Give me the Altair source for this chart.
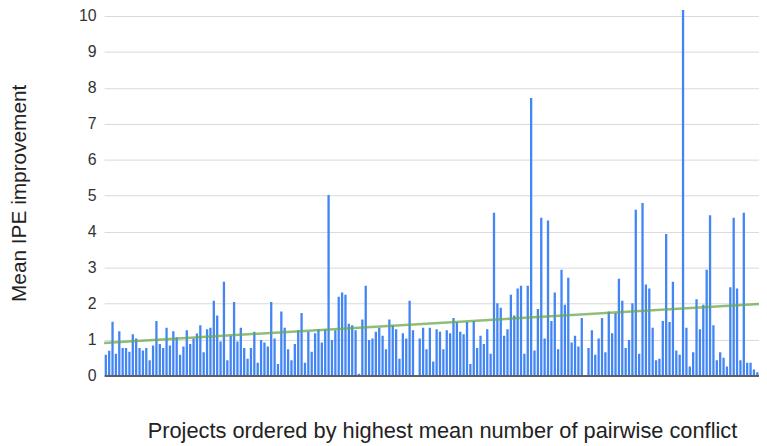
import altair as alt
import pandas as pd

seg1 = [0.58, 0.69, 1.50, 0.61, 1.23, 0.77, 0.77, 0.66, 1.15, 1.03, 0.77, 0.70, 0.77, 0.43, 0.84, 1.52,
        0.88, 0.77, 1.33, 0.84, 1.23, 1.07, 0.58]
seg2 = [0.81, 1.26, 0.88, 1.03, 1.17, 1.40, 0.65, 1.29, 1.33, 2.08, 1.67, 0.95, 2.61, 0.43, 1.11, 2.05,
        0.95, 1.33, 0.77, 0.47, 0.77, 1.22, 0.36, 0.99, 0.92]
seg3 = [0.81, 2.05, 1.03, 0.32, 1.78, 1.33, 0.73, 0.43, 0.88, 1.26, 1.74, 0.36, 1.22, 0.66, 1.18, 1.29,
        0.92, 1.29, 5.02, 0.99, 1.26, 2.19, 2.31, 2.25]
seg4 = [1.44, 1.40, 1.26, 0.05, 1.56, 2.50, 0.99, 1.03, 1.22, 1.33, 1.11, 0.73, 1.56, 1.40, 1.29, 0.47,
        1.18, 1.03, 2.08, 1.26, 0.00, 1.03, 1.33, 0.73]
seg5 = [1.33, 0.39, 1.29, 1.22, 0.73, 1.26, 1.18, 1.60, 1.49, 1.22, 1.15, 1.49, 0.32, 1.52, 0.77, 1.11,
        0.88, 1.29, 0.61, 4.53, 2.01, 1.89, 1.11, 1.29, 2.25]
seg6 = [1.67, 2.42, 2.50, 0.61, 2.50, 7.72, 0.70, 1.85, 4.39, 1.03, 4.31, 1.52, 2.31, 0.73, 2.94, 1.97,
        2.72, 0.92, 1.11, 0.81, 1.60, 0.00, 0.77, 1.26, 0.58]
seg7 = [1.03, 1.60, 0.65, 1.78, 1.18, 1.74, 2.69, 2.08, 0.77, 0.99, 2.01, 4.61, 0.61, 4.80, 2.53, 2.42,
        1.33, 0.43, 0.47, 1.52, 3.94, 1.49, 2.61, 0.70]
seg8 = [0.58, 10.30, 1.33, 0.25, 0.65, 2.12, 1.29, 1.97, 2.94, 4.46, 1.40, 0.43, 0.65, 0.50, 0.25, 2.46,
        4.39, 2.42, 0.43, 4.53, 0.36, 0.36, 0.17, 0.09]

values = seg1 + seg2 + seg3 + seg4 + seg5 + seg6 + seg7 + seg8
n = len(values)
df = pd.DataFrame({"project": list(range(n)), "ipe": values})

FONT = "Arial, Liberation Sans, sans-serif"
x_title = "Projects ordered by highest mean number of pairwise conflict"
y_title = "Mean IPE improvement"

x_scale = alt.Scale(domain=[-0.5, n - 0.5], nice=False, zero=False)
y_scale = alt.Scale(domain=[0, 10.165], nice=False)

x_axis = alt.Axis(title=x_title, labels=False, ticks=False, grid=False, domain=True,
                  domainColor="#333333", domainWidth=1.5, titlePadding=45, titleFontSize=22,
                  titleFont=FONT, titleFontWeight="normal", titleColor="#222222", zindex=1,
                  titleX=341)
y_axis = alt.Axis(title=y_title, values=list(range(11)), grid=True, gridColor="#d9d9d9",
                  domain=False, ticks=False, labelPadding=8, labelFontSize=16, labelFont=FONT,
                  labelColor="#333333", titleFontSize=21, titleFont=FONT, titleFontWeight="normal",
                  titleColor="#222222", titlePadding=50)

base = alt.Chart(df)

bars = base.transform_calculate(
    x0="datum.project - 0.34", x1="datum.project + 0.34"
).mark_bar(color="#4285f4", clip=True).encode(
    x=alt.X("x0:Q", scale=x_scale, axis=x_axis),
    x2="x1:Q",
    y=alt.Y("ipe:Q", scale=y_scale, axis=y_axis),
    y2=alt.datum(0),
)

trend = base.transform_regression(
    "project", "ipe", extent=[-0.5, n - 0.5]
).mark_line(color="#6aa84f", strokeWidth=2.5, opacity=0.75).encode(
    x=alt.X("project:Q", scale=x_scale, axis=x_axis),
    y=alt.Y("ipe:Q", scale=y_scale, axis=y_axis),
)

chart = alt.layer(bars, trend).properties(
    width=661, height=369,
    autosize=alt.AutoSizeParams(type="none"),
    padding={"left": 97, "top": 0, "right": 0, "bottom": 68},
).configure_view(stroke=None)

chart.save("out.html", embed_options={"renderer": "svg", "actions": False})
